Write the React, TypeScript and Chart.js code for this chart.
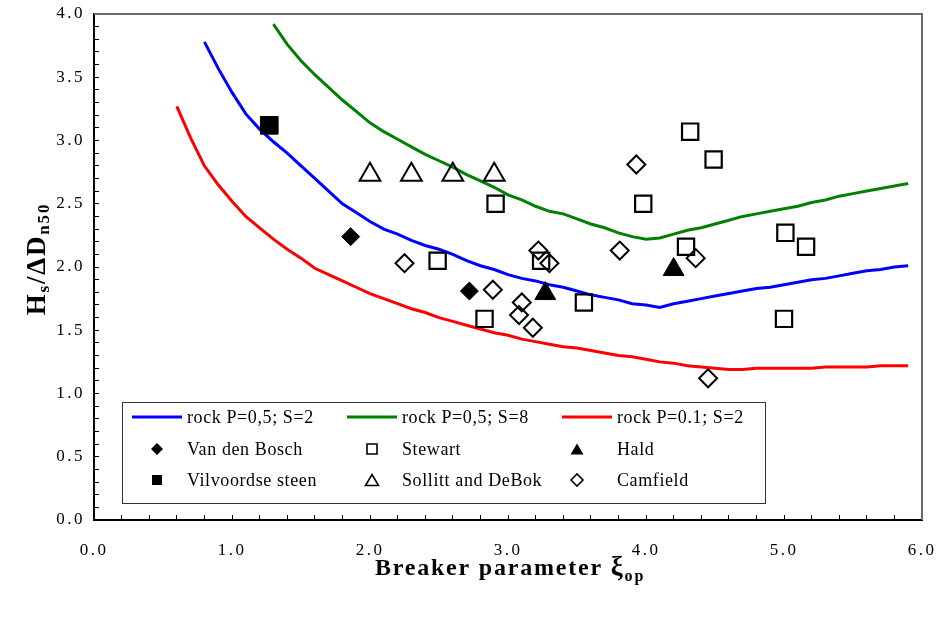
import React, { useEffect, useRef } from 'react';
import { Chart, registerables } from 'chart.js';

Chart.register(...registerables);

// ---- curves ----
const blueX = [0.8, 0.9, 1.0, 1.1, 1.2, 1.3, 1.4, 1.5, 1.6, 1.7, 1.8, 1.9, 2.0, 2.1, 2.2, 2.3, 2.4, 2.5, 2.6, 2.7, 2.8, 2.9, 3.0, 3.1, 3.2, 3.3, 3.4, 3.5, 3.6, 3.7, 3.8, 3.9, 4.0, 4.1, 4.2, 4.3, 4.4, 4.5, 4.6, 4.7, 4.8, 4.9, 5.0, 5.1, 5.2, 5.3, 5.4, 5.5, 5.6, 5.7, 5.8, 5.9];
const blueY = [3.78, 3.57, 3.38, 3.21, 3.09, 2.99, 2.90, 2.80, 2.70, 2.60, 2.50, 2.43, 2.36, 2.30, 2.26, 2.21, 2.17, 2.14, 2.10, 2.05, 2.01, 1.98, 1.94, 1.91, 1.89, 1.86, 1.84, 1.81, 1.78, 1.76, 1.74, 1.71, 1.70, 1.68, 1.71, 1.73, 1.75, 1.77, 1.79, 1.81, 1.83, 1.84, 1.86, 1.88, 1.90, 1.91, 1.93, 1.95, 1.97, 1.98, 2.00, 2.01];

const greenX = [1.3, 1.4, 1.5, 1.6, 1.7, 1.8, 1.9, 2.0, 2.1, 2.2, 2.3, 2.4, 2.5, 2.6, 2.7, 2.8, 2.9, 3.0, 3.1, 3.2, 3.3, 3.4, 3.5, 3.6, 3.7, 3.8, 3.9, 4.0, 4.1, 4.2, 4.3, 4.4, 4.5, 4.6, 4.7, 4.8, 4.9, 5.0, 5.1, 5.2, 5.3, 5.4, 5.5, 5.6, 5.7, 5.8, 5.9];
const greenY = [3.92, 3.76, 3.63, 3.52, 3.42, 3.32, 3.23, 3.14, 3.07, 3.01, 2.95, 2.89, 2.84, 2.79, 2.73, 2.68, 2.63, 2.57, 2.53, 2.48, 2.44, 2.42, 2.38, 2.34, 2.31, 2.27, 2.24, 2.22, 2.23, 2.26, 2.29, 2.31, 2.34, 2.37, 2.40, 2.42, 2.44, 2.46, 2.48, 2.51, 2.53, 2.56, 2.58, 2.60, 2.62, 2.64, 2.66];

const redX = [0.6, 0.7, 0.8, 0.9, 1.0, 1.1, 1.2, 1.3, 1.4, 1.5, 1.6, 1.7, 1.8, 1.9, 2.0, 2.1, 2.2, 2.3, 2.4, 2.5, 2.6, 2.7, 2.8, 2.9, 3.0, 3.1, 3.2, 3.3, 3.4, 3.5, 3.6, 3.7, 3.8, 3.9, 4.0, 4.1, 4.2, 4.3, 4.4, 4.5, 4.6, 4.7, 4.8, 4.9, 5.0, 5.1, 5.2, 5.3, 5.4, 5.5, 5.6, 5.7, 5.8, 5.9];
const redY = [3.27, 3.02, 2.80, 2.65, 2.52, 2.40, 2.31, 2.22, 2.14, 2.07, 1.99, 1.94, 1.89, 1.84, 1.79, 1.75, 1.71, 1.67, 1.64, 1.60, 1.57, 1.54, 1.51, 1.48, 1.46, 1.43, 1.41, 1.39, 1.37, 1.36, 1.34, 1.32, 1.30, 1.29, 1.27, 1.25, 1.24, 1.22, 1.21, 1.20, 1.19, 1.19, 1.20, 1.20, 1.20, 1.20, 1.20, 1.21, 1.21, 1.21, 1.21, 1.22, 1.22, 1.22];

// ---- measurements ----
const vdbX = [1.86, 2.72];
const vdbY = [2.24, 1.81];
const vilX = [1.27];
const vilY = [3.12];
const haldX = [3.27, 4.20];
const haldY = [1.79, 1.98];
const stewartX = [2.49, 2.83, 2.91, 3.24, 3.55, 3.98, 4.29, 4.32, 4.49, 5.00, 5.01, 5.16];
const stewartY = [2.05, 1.59, 2.50, 2.05, 1.72, 2.50, 2.16, 3.07, 2.85, 1.59, 2.27, 2.16];
const sollittX = [2.0, 2.3, 2.6, 2.9];
const sollittY = [2.73, 2.73, 2.73, 2.73];
const camfieldX = [2.25, 2.89, 3.08, 3.10, 3.18, 3.22, 3.30, 3.81, 3.93, 4.36, 4.45];
const camfieldY = [2.03, 1.82, 1.62, 1.72, 1.52, 2.13, 2.03, 2.13, 2.81, 2.07, 1.12];

// ---- axes ----
const xMin = 0, xMax = 6, xStep = 0.2;
const yMin = 0, yMax = 4, yStep = 0.1;

const SERIF = "'Liberation Serif', 'Times New Roman', serif";

const pts = (xs: number[], ys: number[]) => xs.map((x, i) => ({ x, y: ys[i] }));

type Legend = { label: string; kind: 'line' | 'marker'; color?: string; style?: string; filled?: boolean };
const legendItems: Legend[][] = [
  [
    { label: 'rock P=0,5; S=2', kind: 'line', color: '#0000FF' },
    { label: 'rock P=0,5; S=8', kind: 'line', color: '#008000' },
    { label: 'rock P=0.1; S=2', kind: 'line', color: '#FF0000' },
  ],
  [
    { label: 'Van den Bosch', kind: 'marker', style: 'diamond', filled: true },
    { label: 'Stewart', kind: 'marker', style: 'square', filled: false },
    { label: 'Hald', kind: 'marker', style: 'triangle', filled: true },
  ],
  [
    { label: 'Vilvoordse steen', kind: 'marker', style: 'square', filled: true },
    { label: 'Sollitt and DeBok', kind: 'marker', style: 'triangle', filled: false },
    { label: 'Camfield', kind: 'marker', style: 'diamond', filled: false },
  ],
];

function drawMarker(ctx: CanvasRenderingContext2D, style: string, x: number, y: number, r: number, filled: boolean) {
  ctx.beginPath();
  if (style === 'diamond') {
    ctx.moveTo(x - r, y); ctx.lineTo(x, y - r); ctx.lineTo(x + r, y); ctx.lineTo(x, y + r); ctx.closePath();
  } else if (style === 'square') {
    ctx.rect(x - r, y - r, 2 * r, 2 * r);
  } else {
    const h = r * 1.7;
    ctx.moveTo(x, y - h / 2); ctx.lineTo(x + r, y + h / 2); ctx.lineTo(x - r, y + h / 2); ctx.closePath();
  }
  if (filled) { ctx.fillStyle = '#000'; ctx.fill(); }
  else { ctx.lineWidth = 1.6; ctx.strokeStyle = '#000'; ctx.stroke(); }
}

type Part = { t: string; size: number; dy: number };
function drawParts(ctx: CanvasRenderingContext2D, parts: Part[], cx: number, baseY: number, spacing: number) {
  ctx.letterSpacing = spacing + 'px';
  let total = 0;
  const widths = parts.map(p => {
    ctx.font = `bold ${p.size}px ${SERIF}`;
    const w = ctx.measureText(p.t).width;
    total += w;
    return w;
  });
  let x = cx - total / 2;
  ctx.textAlign = 'left';
  ctx.textBaseline = 'alphabetic';
  parts.forEach((p, i) => {
    ctx.font = `bold ${p.size}px ${SERIF}`;
    ctx.fillText(p.t, x, baseY + p.dy);
    x += widths[i];
  });
  ctx.letterSpacing = '0px';
}

const tickSpacing = {
  id: 'tickSpacing',
  beforeDraw(chart: any) { chart.ctx.letterSpacing = '2.5px'; },
  beforeDatasetsDraw(chart: any) { chart.ctx.letterSpacing = '0px'; },
};

const decor = {
  id: 'decor',
  afterDraw(chart: any) {
    const ctx: CanvasRenderingContext2D = chart.ctx;
    const ca = chart.chartArea;
    ctx.save();
    ctx.letterSpacing = '0px';
    // top / right frame
    ctx.strokeStyle = '#6b6b6b';
    ctx.lineWidth = 2;
    ctx.beginPath();
    ctx.moveTo(ca.left, ca.top);
    ctx.lineTo(ca.right, ca.top);
    ctx.lineTo(ca.right, ca.bottom);
    ctx.stroke();

    // legend box
    const bx = ca.left + 28, by = ca.bottom - 118, bw = 643, bh = 101;
    ctx.fillStyle = '#fff';
    ctx.fillRect(bx, by, bw, bh);
    ctx.strokeStyle = '#333';
    ctx.lineWidth = 1;
    ctx.strokeRect(bx + 0.5, by + 0.5, bw, bh);
    const rowY = [15, 47, 78];
    const colLine = [10, 225, 440];
    const colText = [65, 280, 495];
    const colMarker = [35, 250, 455];
    ctx.textBaseline = 'middle';
    ctx.textAlign = 'left';
    legendItems.forEach((row, ri) => {
      row.forEach((it, ci) => {
        const y = by + rowY[ri];
        if (it.kind === 'line') {
          ctx.strokeStyle = it.color!;
          ctx.lineWidth = 3;
          ctx.beginPath();
          ctx.moveTo(bx + colLine[ci], y);
          ctx.lineTo(bx + colLine[ci] + 50, y);
          ctx.stroke();
        } else {
          const r = it.style === 'diamond' ? 6 : it.style === 'square' ? 5 : 6.5;
          drawMarker(ctx, it.style!, bx + colMarker[ci], y, r, !!it.filled);
        }
        ctx.fillStyle = '#000';
        ctx.letterSpacing = '0.6px';
        ctx.font = `18px ${SERIF}`;
        ctx.fillText(it.label, bx + colText[ci], y + 1);
        ctx.letterSpacing = '0px';
      });
    });

    // axis titles
    ctx.fillStyle = '#000';
    drawParts(ctx, [
      { t: 'Breaker parameter ', size: 24, dy: 0 },
      { t: 'ξ', size: 27, dy: 0 },
      { t: 'op', size: 16, dy: 6 },
    ], 510, 575, 1.8);

    ctx.save();
    ctx.translate(45, 259);
    ctx.rotate(-Math.PI / 2);
    drawParts(ctx, [
      { t: 'H', size: 27, dy: 0 },
      { t: 's', size: 17, dy: 4 },
      { t: '/', size: 27, dy: 0 },
      { t: 'Δ', size: 27, dy: 0 },
      { t: 'D', size: 27, dy: 0 },
      { t: 'n50', size: 17, dy: 4 },
    ], 0, 0, 1.8);
    ctx.restore();
    ctx.restore();
  },
};

export default function App() {
  const ref = useRef<HTMLCanvasElement>(null);
  useEffect(() => {
    const canvas = ref.current!;
    const open = 'rgba(0,0,0,0)';
    const chart = new Chart(canvas, {
      type: 'scatter',
      data: {
        datasets: [
          { label: 'rock P=0,5; S=2', data: pts(blueX, blueY), showLine: true, borderColor: '#0000FF', borderWidth: 3, pointRadius: 0, order: 10 },
          { label: 'rock P=0,5; S=8', data: pts(greenX, greenY), showLine: true, borderColor: '#008000', borderWidth: 3, pointRadius: 0, order: 10 },
          { label: 'rock P=0.1; S=2', data: pts(redX, redY), showLine: true, borderColor: '#FF0000', borderWidth: 3, pointRadius: 0, order: 10 },
          { label: 'Van den Bosch', data: pts(vdbX, vdbY), pointStyle: 'rectRot', pointRadius: 9, backgroundColor: '#000', borderColor: '#000', borderWidth: 1, order: 1 },
          { label: 'Vilvoordse steen', data: pts(vilX, vilY), pointStyle: 'rect', pointRadius: 12.5, backgroundColor: '#000', borderColor: '#000', borderWidth: 1, order: 1 },
          { label: 'Hald', data: pts(haldX, haldY), pointStyle: 'triangle', pointRadius: 12, backgroundColor: '#000', borderColor: '#000', borderWidth: 1, order: 1 },
          { label: 'Stewart', data: pts(stewartX, stewartY), pointStyle: 'rect', pointRadius: 11.5, backgroundColor: open, borderColor: '#000', borderWidth: 2.2, order: 1 },
          { label: 'Sollitt and DeBok', data: pts(sollittX, sollittY), pointStyle: 'triangle', pointRadius: 12, backgroundColor: open, borderColor: '#000', borderWidth: 2, order: 1 },
          { label: 'Camfield', data: pts(camfieldX, camfieldY), pointStyle: 'rectRot', pointRadius: 9, backgroundColor: open, borderColor: '#000', borderWidth: 2, order: 1 },
        ],
      },
      options: {
        animation: false,
        responsive: false,
        devicePixelRatio: 1,
        layout: { padding: { top: 13, right: 16, left: 0, bottom: 0 } },
        plugins: { legend: { display: false }, tooltip: { enabled: false } },
        scales: {
          x: {
            type: 'linear', min: xMin, max: xMax,
            afterFit: (s: any) => { s.height = 99; s.paddingLeft = 0; s.paddingRight = 0; },
            ticks: {
              stepSize: xStep, autoSkip: false, maxRotation: 0, padding: 25, color: '#000',
              font: { family: SERIF, size: 17 },
              callback: (v: any) => Math.abs(v - Math.round(v)) < 1e-6 ? Number(v).toFixed(1) : '',
            },
            grid: { drawOnChartArea: false, drawTicks: true, tickLength: -5, color: '#000', lineWidth: 1 },
            border: { color: '#000', width: 2 },
          },
          y: {
            type: 'linear', min: yMin, max: yMax,
            afterFit: (s: any) => { s.width = 94; s.paddingTop = 0; s.paddingBottom = 0; },
            ticks: {
              stepSize: yStep, autoSkip: false, padding: 14, color: '#000',
              font: { family: SERIF, size: 17 },
              callback: (v: any) => Math.abs(v * 2 - Math.round(v * 2)) < 1e-6 ? Number(v).toFixed(1) : '',
            },
            grid: { drawOnChartArea: false, drawTicks: true, tickLength: -5, color: '#000', lineWidth: 1 },
            border: { color: '#000', width: 2 },
          },
        },
      } as any,
      plugins: [tickSpacing, decor],
    });
    return () => chart.destroy();
  }, []);
  return (
    <div style={{ position: 'absolute', left: 0, top: 0, width: 938, height: 619, background: '#fff' }}>
      <canvas ref={ref} width={938} height={619} />
    </div>
  );
}
